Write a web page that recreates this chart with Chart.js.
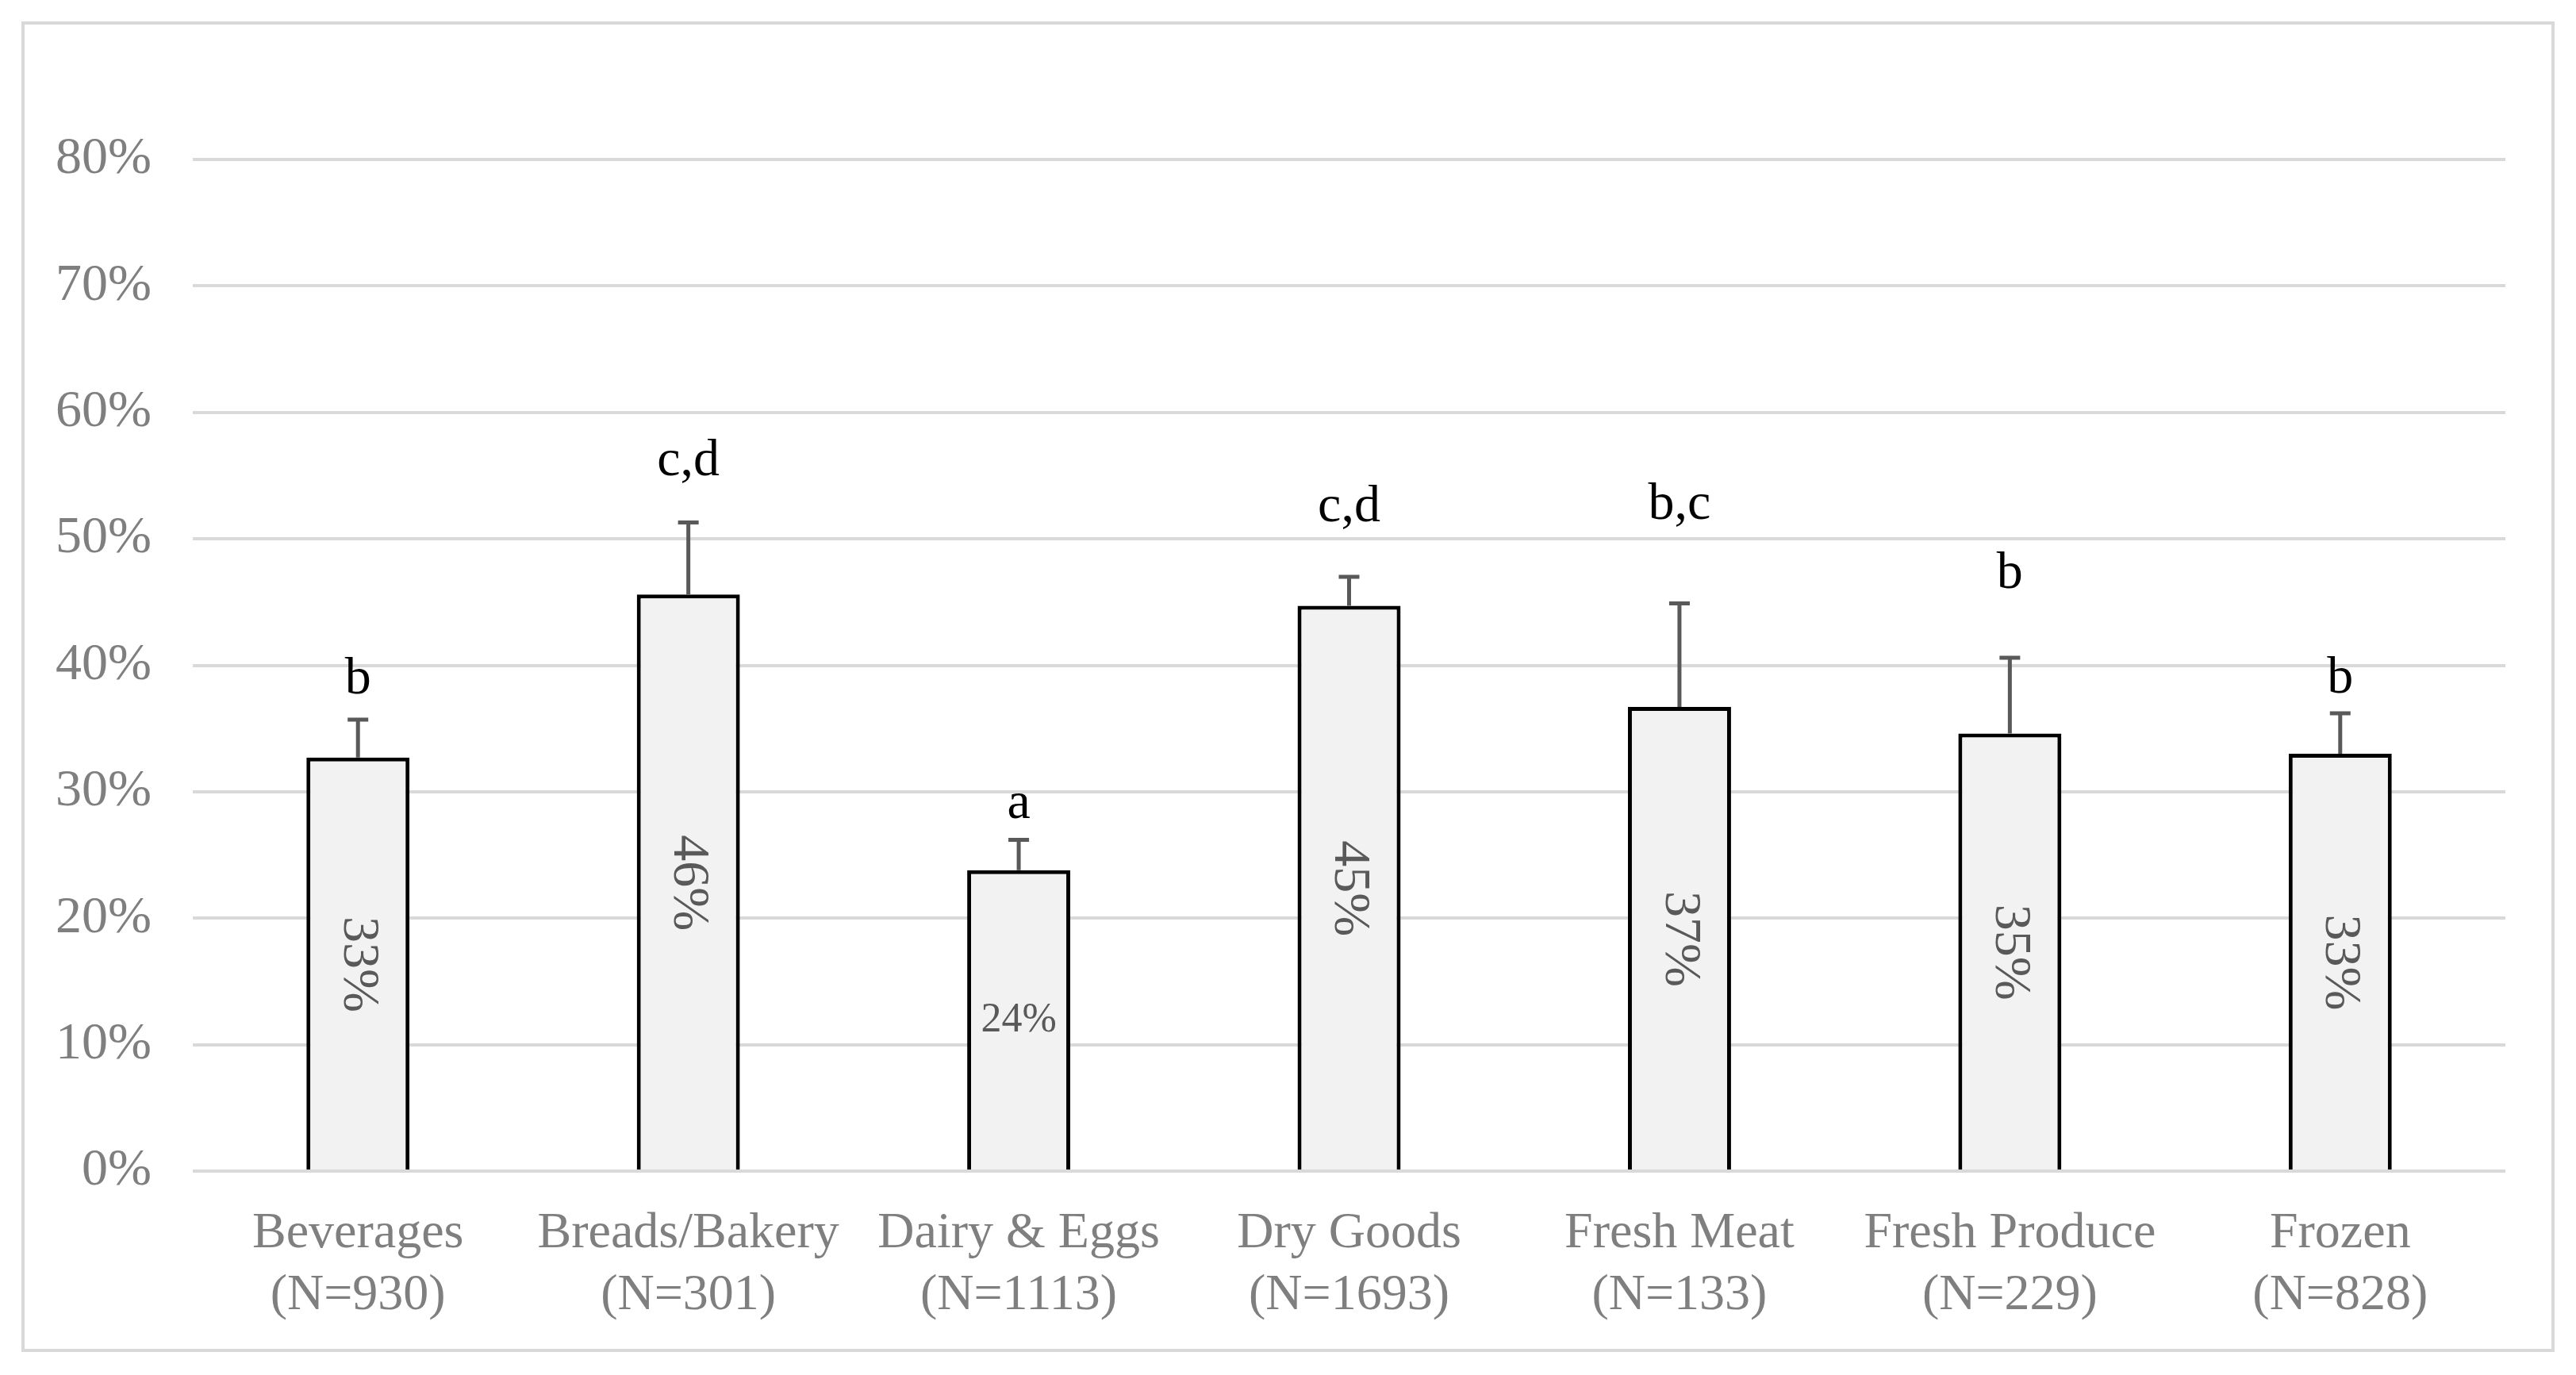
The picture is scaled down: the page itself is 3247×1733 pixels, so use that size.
<!DOCTYPE html>
<html>
<head>
<meta charset="utf-8">
<script src="https://cdn.jsdelivr.net/npm/chart.js@4/dist/chart.umd.min.js"></script>
<style>
  html, body { margin: 0; padding: 0; background: #ffffff; }
  canvas { display: block; }
</style>
</head>
<body>
<canvas id="c" width="3247" height="1733" style="width:3247px;height:1733px"></canvas>
<script>
// ---- data ----
const categories = ['Beverages', 'Breads/Bakery', 'Dairy & Eggs', 'Dry Goods', 'Fresh Meat', 'Fresh Produce', 'Frozen'];
const sampleSizes = ['(N=930)', '(N=301)', '(N=1113)', '(N=1693)', '(N=133)', '(N=229)', '(N=828)'];
const shares = [0.327, 0.456, 0.238, 0.447, 0.367, 0.346, 0.330];
const errorUpper = [0.030, 0.057, 0.024, 0.023, 0.082, 0.060, 0.032];
const groupLetters = ['b', 'c,d', 'a', 'c,d', 'b,c', 'b', 'b'];
const letterLevels = [0.378, 0.550, 0.279, 0.514, 0.516, 0.461, 0.3785];
const yTicks = [0, 0.1, 0.2, 0.3, 0.4, 0.5, 0.6, 0.7, 0.8];

// ---- style ----
const FONT = '"Liberation Serif", "Times New Roman", serif';
const horizontalLabel = [false, false, true, false, false, false, false];

const overlay = {
  id: 'overlay',
  beforeDraw(chart) {
    const ctx = chart.ctx;
    ctx.save();
    ctx.fillStyle = '#ffffff';
    ctx.fillRect(0, 0, chart.width, chart.height);
    ctx.strokeStyle = '#d9d9d9';
    ctx.lineWidth = 4;
    ctx.strokeRect(29, 29, 3189, 1673);
    ctx.restore();
  },
  afterDatasetsDraw(chart) {
    const ctx = chart.ctx;
    const y = chart.scales.y;
    const meta = chart.getDatasetMeta(0);
    ctx.save();
    meta.data.forEach((bar, i) => {
      const cx = bar.x;
      const top = y.getPixelForValue(shares[i]);
      const errTop = y.getPixelForValue(shares[i] + errorUpper[i]);
      // error bar
      ctx.strokeStyle = '#595959';
      ctx.lineWidth = 5;
      ctx.beginPath();
      ctx.moveTo(cx, top);
      ctx.lineTo(cx, errTop);
      ctx.moveTo(cx - 13, errTop);
      ctx.lineTo(cx + 13, errTop);
      ctx.stroke();
      // group letters
      ctx.fillStyle = '#000000';
      ctx.font = '66px ' + FONT;
      ctx.textAlign = 'center';
      ctx.textBaseline = 'alphabetic';
      ctx.fillText(groupLetters[i], cx, y.getPixelForValue(letterLevels[i]));
      // value labels
      const mid = (top + y.getPixelForValue(0)) / 2;
      const txt = Math.round(shares[i] * 100) + '%';
      ctx.fillStyle = '#595959';
      ctx.textBaseline = 'middle';
      if (horizontalLabel[i]) {
        ctx.font = '52px ' + FONT;
        ctx.fillText(txt, cx, mid);
      } else {
        ctx.font = '66px ' + FONT;
        ctx.save();
        ctx.translate(cx, mid);
        ctx.rotate(Math.PI / 2);
        ctx.fillText(txt, 0, 0);
        ctx.restore();
      }
    });
    ctx.restore();
  }
};

new Chart(document.getElementById('c'), {
  type: 'bar',
  data: {
    labels: categories.map((c, i) => [c, sampleSizes[i]]),
    datasets: [{
      data: shares,
      backgroundColor: '#f2f2f2',
      borderColor: '#000000',
      borderWidth: 5,
      borderSkipped: 'start',
      barPercentage: 0.312,
      categoryPercentage: 1.0
    }]
  },
  options: {
    responsive: false,
    animation: false,
    devicePixelRatio: 1,
    layout: { padding: { top: 201, right: 89, left: 0, bottom: 0 } },
    plugins: { legend: { display: false }, tooltip: { enabled: false } },
    scales: {
      x: {
        grid: { display: false, drawTicks: false },
        border: { display: false },
        ticks: {
          color: '#7f7f7f',
          font: { family: FONT, size: 64, lineHeight: 1.22 },
          padding: 40,
          maxRotation: 0,
          autoSkip: false
        },
        afterFit(s) { s.height = 257; s.paddingLeft = 0; s.paddingRight = 0; }
      },
      y: {
        min: 0,
        max: 0.8,
        afterBuildTicks(s) { s.ticks = yTicks.map(v => ({ value: v })); },
        grid: { color: '#d9d9d9', lineWidth: 4, drawTicks: false },
        border: { display: false },
        ticks: {
          color: '#7f7f7f',
          font: { family: FONT, size: 66 },
          padding: 52,
          callback: v => Math.round(v * 100) + '%'
        },
        afterFit(s) { s.width = 243; s.paddingTop = 0; s.paddingBottom = 0; }
      }
    }
  },
  plugins: [overlay]
});
</script>
</body>
</html>
